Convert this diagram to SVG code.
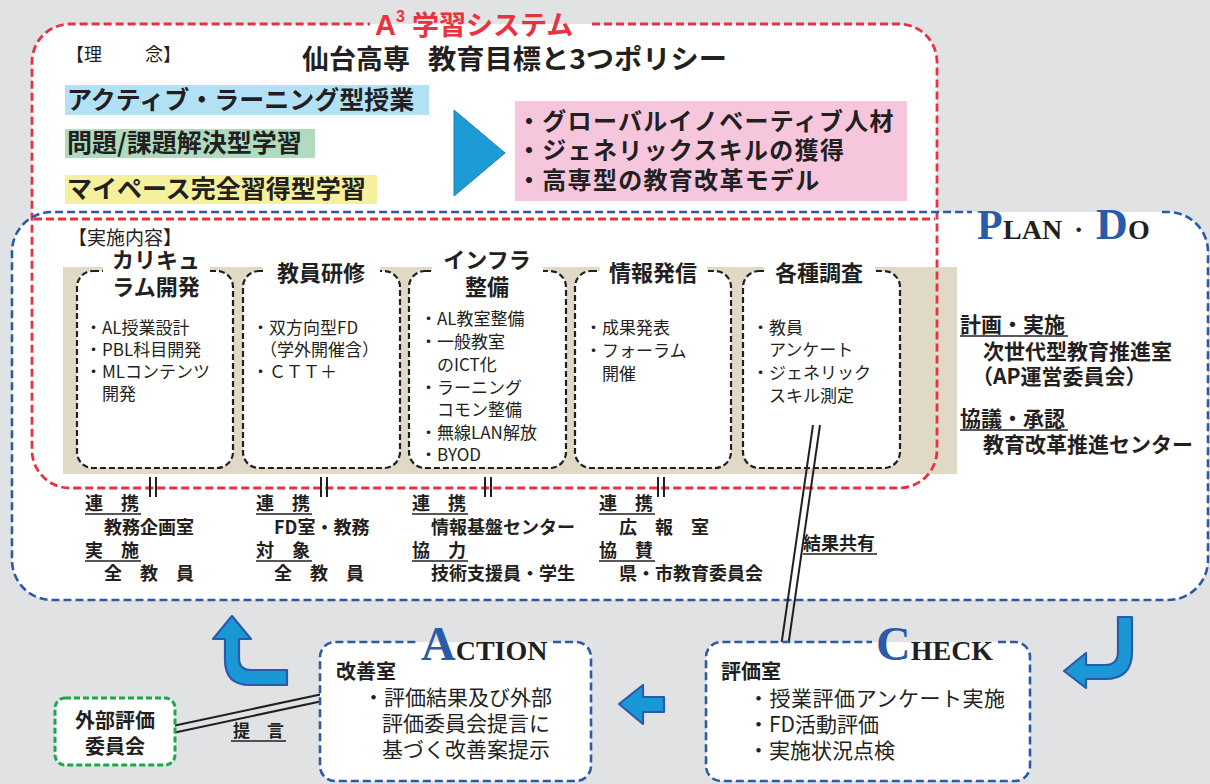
<svg xmlns="http://www.w3.org/2000/svg" width="1210" height="784" viewBox="0 0 1210 784">
<defs>
<style>
.jp{font-family:"Noto Sans CJK JP","Noto Sans CJK SC",sans-serif;fill:#231f20}
.b{font-weight:bold}
.t17{font-size:17px}
.t18{font-size:18px}
.t21{font-size:21px}
.t22{font-size:22px}
.t25{font-size:25px}
.ser{font-family:"Liberation Serif",serif;font-weight:bold}
.blue{fill:#2a5ba8}
.dk{fill:#231f20}
.red{stroke:#e8323f;stroke-width:2.8;stroke-dasharray:8 4;fill:none}
.bl{stroke:#2c5aa8;stroke-width:2.6;stroke-dasharray:8 4;fill:none}
.bx{stroke:#231f20;stroke-width:2.2;stroke-dasharray:6 3;fill:#fff}
.ul{stroke:#231f20;stroke-width:1.6}
.arr{fill:#1a98d5;stroke:#2a5aab;stroke-width:2.2;stroke-linejoin:round}
.ln{stroke:#231f20;stroke-width:2;fill:none}
</style>
</defs>
<rect x="0" y="0" width="1210" height="784" fill="#e1e2e4"/>

<!-- big frames fills -->
<rect x="12" y="212" width="1196" height="388" rx="40" fill="#fff"/>
<rect x="32" y="24" width="905" height="464" rx="38" fill="#fff"/>
<rect x="63" y="267" width="894" height="207" fill="#e0d9c5"/>

<g id="a3-system">
<path class="red" d="M592,24 L899,24 A38,38 0 0 1 937,62 L937,450 A38,38 0 0 1 899,488 L70,488 A38,38 0 0 1 32,450 L32,62 A38,38 0 0 1 70,24 L370,24"/>
<line class="red" x1="34" y1="219" x2="935" y2="219"/>
<text x="375" y="35" font-family="Liberation Sans,Arial,sans-serif" font-weight="bold" font-size="29" fill="#e8323f">A<tspan font-size="16" dy="-13">3</tspan></text>
<text x="412" y="35" class="jp b" font-size="27" style="fill:#e8323f">学習システム</text>
<text x="66" y="61" class="jp t18">【理</text>
<text x="145" y="61" class="jp t18">念】</text>
<text x="302" y="69" class="jp b" font-size="27" textLength="108" lengthAdjust="spacingAndGlyphs">仙台高専</text>
<text x="428" y="69" class="jp b" font-size="27" textLength="299" lengthAdjust="spacingAndGlyphs">教育目標と3つポリシー</text>
</g>

<g id="policy-left">
<rect x="65" y="85" width="364" height="30" fill="#b2e0f5"/>
<text x="67" y="109" class="jp b t25">アクティブ・ラーニング型授業</text>
<rect x="65" y="129" width="250" height="29" fill="#b0dbbf"/>
<text x="67" y="152" class="jp b t25">問題/課題解決型学習</text>
<rect x="65" y="175" width="312" height="29" fill="#f5f09b"/>
<text x="67" y="198" class="jp b t25">マイペース完全習得型学習</text>
</g>

<g id="triangle">
<polygon points="454,110 505,153 454,196" fill="#1d9bd7" stroke="#1a7fb5" stroke-width="1"/>
</g>

<g id="policy-right">
<rect x="515" y="101" width="392" height="100" fill="#f6c7dc"/>
<text x="517" y="130" class="jp b" font-size="24" letter-spacing="1.3">・グローバルイノベーティブ人材</text>
<text x="517" y="159" class="jp b" font-size="24" letter-spacing="1.3">・ジェネリックスキルの獲得</text>
<text x="517" y="189" class="jp b" font-size="24" letter-spacing="1.3">・高専型の教育改革モデル</text>
</g>

<g id="plan-do">
<path class="bl" d="M1162,212 L1168,212 A40,40 0 0 1 1208,252 L1208,560 A40,40 0 0 1 1168,600 L52,600 A40,40 0 0 1 12,560 L12,252 A40,40 0 0 1 52,212 L972,212"/>
<text y="239" class="ser"><tspan class="blue" font-size="42" x="977">P</tspan><tspan class="dk" font-size="28" x="1003">LAN</tspan><tspan class="dk" font-size="28" x="1074">·</tspan><tspan class="blue" font-size="44" x="1096">D</tspan><tspan class="dk" font-size="28" x="1128">O</tspan></text>
<text x="68" y="245" class="jp" font-size="19">【実施内容】</text>
</g>

<g id="box-curriculum">
<rect class="bx" x="77" y="271" width="156" height="197" rx="16"/>
<rect x="103" y="265" width="107" height="12" fill="#fff"/>
<text x="156" y="268" class="jp b t22" text-anchor="middle">カリキュ</text>
<text x="156" y="295" class="jp b t22" text-anchor="middle">ラム開発</text>
<text class="jp t17" x="85" y="334">・AL授業設計</text>
<text class="jp t17" x="85" y="356">・PBL科目開発</text>
<text class="jp t17" x="85" y="378">・MLコンテンツ</text>
<text class="jp t17" x="102" y="400">開発</text>
</g>

<g id="box-training">
<rect class="bx" x="243" y="271" width="157" height="197" rx="16"/>
<rect x="263" y="265" width="117" height="12" fill="#fff"/>
<text x="321" y="281" class="jp b t22" text-anchor="middle">教員研修</text>
<text class="jp t17" x="252" y="334">・双方向型FD</text>
<text class="jp t17" x="260" y="356">（学外開催含）</text>
<text class="jp t17" x="252" y="378">・ＣＴＴ＋</text>
</g>

<g id="box-infra">
<rect class="bx" x="409" y="271" width="157" height="197" rx="16"/>
<rect x="432" y="265" width="111" height="12" fill="#fff"/>
<text x="487" y="268" class="jp b t22" text-anchor="middle">インフラ</text>
<text x="487" y="295" class="jp b t22" text-anchor="middle">整備</text>
<text class="jp t17" x="420" y="325">・AL教室整備</text>
<text class="jp t17" x="420" y="348">・一般教室</text>
<text class="jp t17" x="437" y="371">のICT化</text>
<text class="jp t17" x="420" y="394">・ラーニング</text>
<text class="jp t17" x="437" y="416">コモン整備</text>
<text class="jp t17" x="420" y="439">・無線LAN解放</text>
<text class="jp t17" x="420" y="461">・BYOD</text>
</g>

<g id="box-info">
<rect class="bx" x="575" y="271" width="156" height="197" rx="16"/>
<rect x="600" y="265" width="107" height="12" fill="#fff"/>
<text x="653" y="281" class="jp b t22" text-anchor="middle">情報発信</text>
<text class="jp t17" x="585" y="334">・成果発表</text>
<text class="jp t17" x="585" y="357">・フォーラム</text>
<text class="jp t17" x="602" y="380">開催</text>
</g>

<g id="box-survey">
<rect class="bx" x="743" y="271" width="157" height="197" rx="16"/>
<rect x="764" y="265" width="111" height="12" fill="#fff"/>
<text x="819" y="281" class="jp b t22" text-anchor="middle">各種調査</text>
<text class="jp t17" x="752" y="334">・教員</text>
<text class="jp t17" x="769" y="356">アンケート</text>
<text class="jp t17" x="752" y="379">・ジェネリック</text>
<text class="jp t17" x="769" y="402">スキル測定</text>
</g>

<g id="organization">
<text class="jp b t21" x="960" y="332">計画・実施</text>
<line class="ul" x1="960" y1="336" x2="1068" y2="336"/>
<text class="jp b t21" x="983" y="359">次世代型教育推進室</text>
<text class="jp b t21" x="972" y="384">（AP運営委員会）</text>
<text class="jp b t21" x="960" y="426">協議・承認</text>
<line class="ul" x1="960" y1="430" x2="1068" y2="430"/>
<text class="jp b t21" x="983" y="452">教育改革推進センター</text>
</g>

<g id="partners">
<text class="jp b t18" x="85" y="510">連　携</text><line class="ul" x1="85" y1="514" x2="141" y2="514"/>
<text class="jp b t18" x="104" y="534">教務企画室</text>
<text class="jp b t18" x="85" y="557">実　施</text><line class="ul" x1="85" y1="561" x2="141" y2="561"/>
<text class="jp b t18" x="104" y="580">全　教　員</text>

<text class="jp b t18" x="256" y="510">連　携</text><line class="ul" x1="256" y1="514" x2="312" y2="514"/>
<text class="jp b t18" x="274" y="534">FD室・教務</text>
<text class="jp b t18" x="256" y="557">対　象</text><line class="ul" x1="256" y1="561" x2="312" y2="561"/>
<text class="jp b t18" x="274" y="580">全　教　員</text>

<text class="jp b t18" x="412" y="510">連　携</text><line class="ul" x1="412" y1="514" x2="468" y2="514"/>
<text class="jp b t18" x="431" y="534">情報基盤センター</text>
<text class="jp b t18" x="412" y="557">協　力</text><line class="ul" x1="412" y1="561" x2="468" y2="561"/>
<text class="jp b t18" x="431" y="580">技術支援員・学生</text>

<text class="jp b t18" x="599" y="510">連　携</text><line class="ul" x1="599" y1="514" x2="655" y2="514"/>
<text class="jp b t18" x="619" y="534">広　報　室</text>
<text class="jp b t18" x="599" y="557">協　賛</text><line class="ul" x1="599" y1="561" x2="655" y2="561"/>
<text class="jp b t18" x="619" y="580">県・市教育委員会</text>

<text class="jp b t18" x="803" y="550">結果共有</text><line class="ul" x1="803" y1="554" x2="877" y2="554"/>
</g>

<g id="connectors">
<line class="ln" x1="150" y1="477" x2="150" y2="497"/><line class="ln" x1="156" y1="477" x2="156" y2="497"/>
<line class="ln" x1="321" y1="477" x2="321" y2="497"/><line class="ln" x1="327" y1="477" x2="327" y2="497"/>
<line class="ln" x1="485" y1="477" x2="485" y2="497"/><line class="ln" x1="491" y1="477" x2="491" y2="497"/>
<line class="ln" x1="658" y1="477" x2="658" y2="497"/><line class="ln" x1="664" y1="477" x2="664" y2="497"/>
<line class="ln" x1="813" y1="425" x2="778" y2="668"/><line class="ln" x1="820" y1="425" x2="785" y2="668"/>
<line class="ln" x1="168" y1="727" x2="332" y2="692"/><line class="ln" x1="168" y1="734" x2="332" y2="699"/>
<text class="jp b" font-size="17" x="233" y="737">提　言</text><line class="ul" x1="231" y1="741" x2="286" y2="741"/>
<path class="arr" d="M232,616 L251,639 L239,639 L239,658 Q239,670 251,670 L287,670 L287,685 L250,685 Q225,685 225,660 L225,639 L213,639 Z"/>
<path class="arr" d="M1118,617 L1132,617 L1132,652 Q1132,679 1105,679 L1086,679 L1086,688 L1064,671 L1086,653 L1086,665 L1105,665 Q1118,665 1118,652 Z"/>
<path class="arr" d="M619,704 L643,685 L643,697 L664,697 L664,712 L643,712 L643,724 Z"/>
</g>

<g id="external-committee">
<rect x="55" y="698" width="120" height="67" rx="10" fill="#fff" stroke="#1aa84a" stroke-width="3" stroke-dasharray="6 3"/>
<text class="jp b" font-size="20" x="115" y="728" text-anchor="middle">外部評価</text>
<text class="jp b" font-size="20" x="115" y="754" text-anchor="middle">委員会</text>
</g>

<g id="action">
<rect x="320" y="642" width="271" height="139" rx="15" fill="#fff"/>
<path class="bl" d="M553,642 L576,642 A15,15 0 0 1 591,657 L591,766 A15,15 0 0 1 576,781 L335,781 A15,15 0 0 1 320,766 L320,657 A15,15 0 0 1 335,642 L419,642"/>
<text x="421" y="660" class="ser"><tspan class="blue" font-size="48">A</tspan><tspan class="dk" font-size="28">CTION</tspan></text>
<text class="jp b" font-size="20" x="336" y="679">改善室</text>
<text class="jp" font-size="21" x="363" y="705">・評価結果及び外部</text>
<text class="jp" font-size="21" x="382" y="731">評価委員会提言に</text>
<text class="jp" font-size="21" x="382" y="757">基づく改善案提示</text>
</g>

<g id="check">
<rect x="706" y="642" width="324" height="139" rx="15" fill="#fff"/>
<path class="bl" d="M998,642 L1015,642 A15,15 0 0 1 1030,657 L1030,766 A15,15 0 0 1 1015,781 L721,781 A15,15 0 0 1 706,766 L706,657 A15,15 0 0 1 721,642 L872,642"/>
<text x="876" y="660" class="ser"><tspan class="blue" font-size="48">C</tspan><tspan class="dk" font-size="28">HECK</tspan></text>
<text class="jp b" font-size="20" x="721" y="679">評価室</text>
<text class="jp" font-size="21" x="748" y="706" textLength="257" lengthAdjust="spacing">・授業評価アンケート実施</text>
<text class="jp" font-size="21" x="748" y="732">・FD活動評価</text>
<text class="jp" font-size="21" x="748" y="758">・実施状況点検</text>
</g>
</svg>
